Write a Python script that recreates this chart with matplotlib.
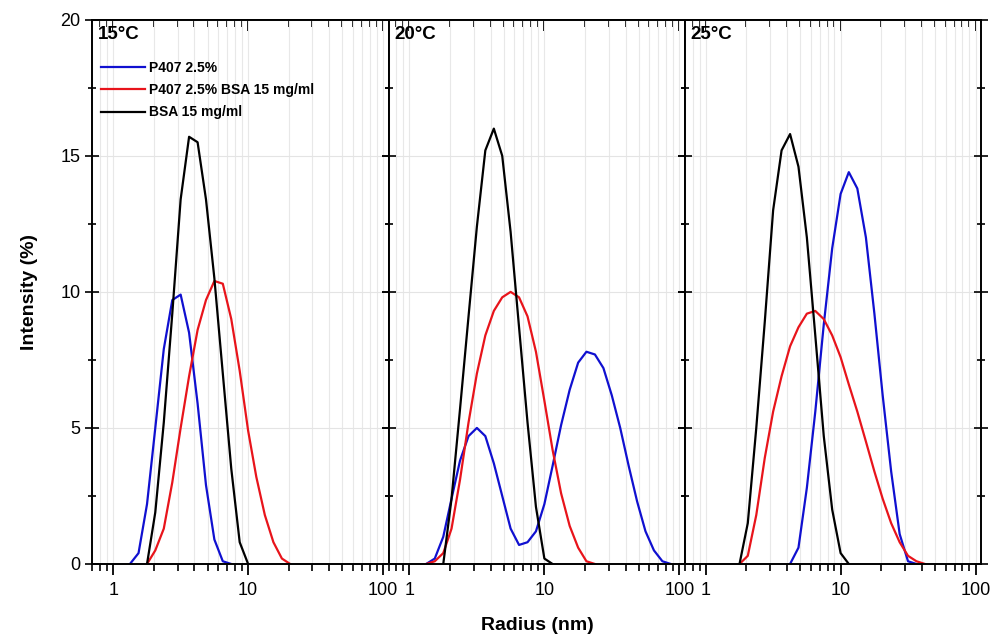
import numpy as np
import matplotlib.pyplot as plt
from matplotlib.ticker import AutoMinorLocator, LogLocator, FixedFormatter, FixedLocator, NullFormatter

plt.rcParams['font.family'] = ['Liberation Sans', 'DejaVu Sans']

# radius grid (nm), DLS size bins
radius = [1.00, 1.15, 1.33, 1.54, 1.78, 2.05, 2.37, 2.74, 3.16, 3.65, 4.22,
          4.87, 5.62, 6.49, 7.50, 8.66, 10.0, 11.5, 13.3, 15.4, 17.8, 20.5,
          23.7, 27.4, 31.6, 36.5, 42.2, 48.7, 56.2, 64.9, 75.0, 86.6, 100.0]

temps = ['15°C', '20°C', '25°C']
labels = ['P407 2.5%', 'P407 2.5% BSA 15 mg/ml', 'BSA 15 mg/ml']
colors = ['#1010d0', '#e8141b', 'black']

# (first bin index, intensities %) for each temperature
p407 = [
    (2, [0, 0.4, 2.2, 5.0, 7.9, 9.7, 9.9, 8.5, 5.9, 2.9, 0.9, 0.1, 0]),
    (2, [0, 0.2, 1.0, 2.4, 3.8, 4.7, 5.0, 4.7, 3.7, 2.5, 1.3, 0.7, 0.8, 1.2,
         2.2, 3.6, 5.1, 6.4, 7.4, 7.8, 7.7, 7.2, 6.2, 5.0, 3.6, 2.3, 1.2,
         0.5, 0.1, 0]),
    (10, [0, 0.6, 2.8, 5.6, 8.8, 11.6, 13.6, 14.4, 13.8, 12.0, 9.2, 6.2,
          3.4, 1.1, 0.1, 0]),
]
p407_bsa = [
    (4, [0, 0.5, 1.3, 3.0, 5.0, 6.9, 8.6, 9.7, 10.4, 10.3, 9.0, 7.1, 4.9,
         3.2, 1.8, 0.8, 0.2, 0]),
    (2, [0, 0.1, 0.4, 1.3, 3.1, 5.2, 7.0, 8.4, 9.3, 9.8, 10.0, 9.8, 9.1, 7.8,
         6.0, 4.2, 2.6, 1.4, 0.6, 0.1, 0]),
    (4, [0, 0.3, 1.8, 3.9, 5.6, 6.9, 8.0, 8.7, 9.2, 9.3, 9.0, 8.4, 7.6, 6.6,
         5.6, 4.5, 3.4, 2.4, 1.5, 0.8, 0.3, 0.1, 0]),
]
bsa = [
    (4, [0, 1.9, 5.2, 9.2, 13.4, 15.7, 15.5, 13.4, 10.5, 7.0, 3.5, 0.8, 0]),
    (4, [0, 2.4, 5.7, 9.1, 12.4, 15.2, 16.0, 15.0, 12.2, 8.7, 5.2, 2.1, 0.2, 0]),
    (4, [0, 1.5, 5.0, 8.9, 13.0, 15.2, 15.8, 14.6, 12.0, 8.4, 4.7, 2.0, 0.4, 0]),
]

fig = plt.figure(figsize=(9.93, 6.38), dpi=100)
axes = fig.subplots(1, 3, sharey=True)
fig.subplots_adjust(left=0.093, right=0.988, bottom=0.116, top=0.969, wspace=0)

for i, ax in enumerate(axes):
    for series, c, lab in zip([p407, p407_bsa, bsa], colors, labels):
        k0, vals = series[i]
        ax.plot(radius[k0:k0 + len(vals)], vals, color=c, lw=1.6, label=lab)

    ax.set_xscale('log')
    ax.set_xlim(0.7, 110)
    ax.set_ylim(0, 20)
    ax.xaxis.set_major_locator(FixedLocator([1, 10, 100]))
    ax.xaxis.set_major_formatter(FixedFormatter(['1', '10', '100']))
    ax.xaxis.set_minor_locator(LogLocator(base=10, subs=np.arange(2, 10)))
    ax.xaxis.set_minor_formatter(NullFormatter())
    ax.set_yticks([0, 5, 10, 15, 20])
    ax.yaxis.set_minor_locator(AutoMinorLocator(2))

    ax.grid(True, which='both', axis='x', color='#e8e8e8', lw=0.8)
    ax.grid(True, which='major', axis='y', color='#e4e4e4', lw=0.8)
    ax.set_axisbelow(True)

    for s in ax.spines.values():
        s.set_linewidth(1.4)

    ax.tick_params(axis='x', which='major', direction='out', length=8, width=1.3,
                   labelsize=13, top=False, pad=5)
    ax.tick_params(axis='x', which='minor', direction='out', length=5, width=1.2, top=False)
    ax.tick_params(axis='y', which='major', direction='inout', length=10, width=1.2,
                   labelsize=13, right=True)
    ax.tick_params(axis='y', which='minor', direction='inout', length=6, width=1.2, right=True)

    # inward ticks along the top edge
    top = ax.secondary_xaxis('top')
    top.xaxis.set_major_locator(FixedLocator([1, 10, 100]))
    top.xaxis.set_minor_locator(LogLocator(base=10, subs=np.arange(2, 10)))
    top.xaxis.set_major_formatter(NullFormatter())
    top.xaxis.set_minor_formatter(NullFormatter())
    top.tick_params(which='major', direction='in', length=8, width=1.3)
    top.tick_params(which='minor', direction='in', length=5, width=1.2)
    top.spines['top'].set_linewidth(1.4)

    ax.text(0.02, 0.988, temps[i], transform=ax.transAxes, fontsize=13.5,
            fontweight='bold', va='top', ha='left')

axes[0].legend(loc='upper left', bbox_to_anchor=(0.0, 0.94), frameon=False,
               prop={'weight': 'bold', 'size': 10}, handlelength=3.2,
               handletextpad=0.3, labelspacing=0.6, borderaxespad=0.2)

axes[0].set_ylabel('Intensity (%)', fontsize=14, fontweight='bold', labelpad=16)
fig.text(0.541, 0.012, 'Radius (nm)', fontsize=14, fontweight='bold', ha='center')

fig.savefig('out.png', dpi=100)
